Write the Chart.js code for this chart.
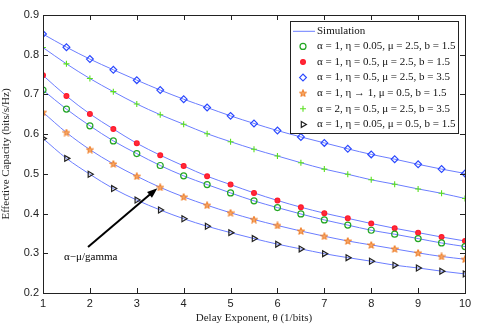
<!DOCTYPE html>
<html>
<head>
<meta charset="utf-8">
<script src="https://cdn.jsdelivr.net/npm/chart.js@4.4.1/dist/chart.umd.min.js"></script>
<style>
  html, body { margin: 0; padding: 0; background: #fff; }
  #wrap { width: 485px; height: 325px; }
</style>
</head>
<body>
<div id="wrap"><canvas id="chart" width="485" height="325"></canvas></div>
<script>
// delay exponent values (x axis)
const theta = [1, 1.5, 2, 2.5, 3, 3.5, 4, 4.5, 5, 5.5, 6, 6.5, 7, 7.5, 8, 8.5, 9, 9.5, 10];

// effective capacity, one array per parameter set
const capA1Eta005Mu25B15 = [0.711, 0.663, 0.621, 0.583, 0.551, 0.521, 0.495, 0.473, 0.452, 0.432, 0.415, 0.399, 0.384, 0.371, 0.358, 0.348, 0.337, 0.326, 0.317];
const capA1Eta05Mu25B15 = [0.748, 0.696, 0.651, 0.613, 0.577, 0.547, 0.520, 0.494, 0.473, 0.452, 0.433, 0.416, 0.401, 0.388, 0.375, 0.363, 0.352, 0.341, 0.331];
const capA1Eta05Mu25B35 = [0.852, 0.819, 0.789, 0.762, 0.736, 0.711, 0.688, 0.667, 0.646, 0.627, 0.609, 0.593, 0.578, 0.563, 0.549, 0.537, 0.524, 0.512, 0.501];
const capA1Eta1Mu05B15 = [0.655, 0.604, 0.561, 0.525, 0.494, 0.466, 0.442, 0.421, 0.402, 0.385, 0.370, 0.356, 0.343, 0.331, 0.321, 0.311, 0.301, 0.292, 0.285];
const capA2Eta05Mu25B35 = [0.818, 0.777, 0.740, 0.707, 0.676, 0.649, 0.625, 0.601, 0.581, 0.562, 0.545, 0.528, 0.512, 0.499, 0.485, 0.474, 0.462, 0.451, 0.438];
const capA1Eta005Mu05B15 = [0.589, 0.539, 0.499, 0.463, 0.434, 0.409, 0.387, 0.368, 0.352, 0.337, 0.323, 0.311, 0.299, 0.289, 0.280, 0.270, 0.263, 0.255, 0.248];

const seriesLabels = [
  "α = 1, η = 0.05, μ = 2.5, b = 1.5",
  "α = 1, η = 0.5, μ = 2.5, b = 1.5",
  "α = 1, η = 0.5, μ = 2.5, b = 3.5",
  "α = 1, η → 1, μ = 0.5, b = 1.5",
  "α = 2, η = 0.5, μ = 2.5, b = 3.5",
  "α = 1, η = 0.05, μ = 0.5, b = 1.5",
];
const yTicks = [0.2, 0.3, 0.4, 0.5, 0.6, 0.7, 0.8, 0.9];
const xTicks = [1, 2, 3, 4, 5, 6, 7, 8, 9, 10];

// annotation: label position and arrow (data coordinates)
const noteText = "α−μ/gamma";
const noteAt = { x: 1.45, y: 0.291 };
const arrowFrom = { x: 1.96, y: 0.316 };
const arrowTo = { x: 3.44, y: 0.464 };

const lineColor = "#6b7dff";
const serif = "'Liberation Serif', 'DejaVu Serif', serif";
const sans = "'Liberation Sans', Arial, sans-serif";

function pentagram(color) {
  const c = document.createElement("canvas");
  c.width = 8; c.height = 8;
  const g = c.getContext("2d");
  g.beginPath();
  for (let i = 0; i < 10; i++) {
    const r = i % 2 === 0 ? 3.7 : 1.5;
    const a = -Math.PI / 2 + i * Math.PI / 5;
    const px = 4 + r * Math.cos(a), py = 4.3 + r * Math.sin(a);
    i === 0 ? g.moveTo(px, py) : g.lineTo(px, py);
  }
  g.closePath();
  g.fillStyle = "#f6a868";
  g.fill();
  g.strokeStyle = color;
  g.lineWidth = 1;
  g.stroke();
  return c;
}

const markerStyles = [
  { pointStyle: "circle", radius: 3, color: "#23a623", fill: "rgba(0,0,0,0)", rotation: 0, width: 1.2 },
  { pointStyle: "circle", radius: 2.4, color: "#ff1a2a", fill: "#ff2a3a", rotation: 0, width: 1.2 },
  { pointStyle: "rectRot", radius: 3.4, color: "#2a48ff", fill: "rgba(0,0,0,0)", rotation: 0, width: 1.2 },
  { pointStyle: pentagram("#ee7a22"), radius: 4, color: "#ee7a22", fill: "#ee7a22", rotation: 0, width: 1 },
  { pointStyle: "cross", radius: 3, color: "#5ae020", fill: "#5ae020", rotation: 0, width: 1.1 },
  { pointStyle: "triangle", radius: 3.4, color: "#222", fill: "rgba(0,0,0,0)", rotation: 90, width: 1.2 },
];

const allSeries = [capA1Eta005Mu25B15, capA1Eta05Mu25B15, capA1Eta05Mu25B35, capA1Eta1Mu05B15, capA2Eta05Mu25B35, capA1Eta005Mu05B15];
const toPoints = (ys) => theta.map((x, i) => ({ x, y: ys[i] }));

const datasets = [];
allSeries.forEach((ys) => {
  datasets.push({
    type: "line", data: toPoints(ys), borderColor: lineColor, borderWidth: 1,
    pointRadius: 0, cubicInterpolationMode: "monotone", fill: false, order: 2,
  });
});
allSeries.forEach((ys, k) => {
  const m = markerStyles[k];
  datasets.push({
    type: "line", data: toPoints(ys), showLine: false, order: 1,
    pointStyle: m.pointStyle, pointRadius: m.radius, pointRotation: m.rotation,
    pointBorderColor: m.color, pointBackgroundColor: m.fill, pointBorderWidth: m.width,
  });
});

// MATLAB-like frame, inward ticks, legend box and arrow note
const matlabFrame = {
  id: "matlabFrame",
  afterDatasetsDraw(chart) {
    const { ctx, chartArea: a, scales: { x, y } } = chart;
    ctx.save();
    ctx.strokeStyle = "#222";
    ctx.lineWidth = 1;
    ctx.beginPath();
    xTicks.forEach((v) => {
      const px = Math.round(x.getPixelForValue(v)) + 0.5;
      ctx.moveTo(px, a.bottom); ctx.lineTo(px, a.bottom - 5);
      ctx.moveTo(px, a.top); ctx.lineTo(px, a.top + 5);
    });
    yTicks.forEach((v) => {
      const py = Math.round(y.getPixelForValue(v)) + 0.5;
      ctx.moveTo(a.left, py); ctx.lineTo(a.left + 5, py);
      ctx.moveTo(a.right, py); ctx.lineTo(a.right - 5, py);
    });
    ctx.stroke();
    ctx.strokeRect(Math.round(a.left) + 0.5, Math.round(a.top) + 0.5, Math.round(a.right - a.left), Math.round(a.bottom - a.top));

    // arrow
    const x0 = x.getPixelForValue(arrowFrom.x), y0 = y.getPixelForValue(arrowFrom.y);
    const x1 = x.getPixelForValue(arrowTo.x), y1 = y.getPixelForValue(arrowTo.y);
    const ang = Math.atan2(y1 - y0, x1 - x0);
    ctx.strokeStyle = "#000"; ctx.fillStyle = "#000"; ctx.lineWidth = 2;
    ctx.beginPath(); ctx.moveTo(x0, y0); ctx.lineTo(x1 - 8 * Math.cos(ang), y1 - 8 * Math.sin(ang)); ctx.stroke();
    ctx.beginPath();
    ctx.moveTo(x1, y1);
    ctx.lineTo(x1 - 11 * Math.cos(ang - 0.35), y1 - 11 * Math.sin(ang - 0.35));
    ctx.lineTo(x1 - 11 * Math.cos(ang + 0.35), y1 - 11 * Math.sin(ang + 0.35));
    ctx.closePath(); ctx.fill();
    ctx.font = `11px ${serif}`;
    ctx.textBaseline = "middle"; ctx.textAlign = "left";
    ctx.fillText(noteText, x.getPixelForValue(noteAt.x), y.getPixelForValue(noteAt.y));

    // legend box
    const lx = a.right - 175, ly = a.top + 6, lw = 168, lh = 112;
    ctx.fillStyle = "#fff";
    ctx.fillRect(lx, ly, lw, lh);
    ctx.strokeStyle = "#222"; ctx.lineWidth = 1;
    ctx.strokeRect(Math.round(lx) + 0.5, Math.round(ly) + 0.5, lw, lh);
    const rowH = 15.6, rowY0 = ly + 9.8;
    ctx.font = `11px ${serif}`;
    ctx.fillStyle = "#111";
    ctx.fillText("Simulation", lx + 27, rowY0);
    ctx.strokeStyle = lineColor;
    ctx.beginPath(); ctx.moveTo(lx + 3, rowY0 + 0.5); ctx.lineTo(lx + 25, rowY0 + 0.5); ctx.stroke();
    seriesLabels.forEach((label, k) => {
      const ry = rowY0 + (k + 1) * rowH;
      const m = markerStyles[k];
      ctx.strokeStyle = m.color; ctx.fillStyle = m.fill; ctx.lineWidth = m.width;
      Chart.helpers.drawPoint(ctx, { pointStyle: m.pointStyle, rotation: m.rotation, radius: m.radius, borderWidth: m.width }, lx + 13, ry);
      ctx.fillStyle = "#111";
      ctx.fillText(label, lx + 27, ry);
    });
    ctx.restore();
  },
};

new Chart(document.getElementById("chart"), {
  type: "line",
  data: { datasets },
  plugins: [matlabFrame],
  options: {
    responsive: false,
    animation: false,
    layout: { padding: { top: 15, right: 20, left: 0, bottom: 0 } },
    plugins: { legend: { display: false }, tooltip: { enabled: false } },
    scales: {
      x: {
        type: "linear", min: 1, max: 10,
        afterFit: (s) => { s.height = 32; },
        afterBuildTicks: (s) => { s.ticks = xTicks.map((v) => ({ value: v })); },
        grid: { display: false, drawTicks: false },
        border: { display: false },
        ticks: { padding: 4, color: "#222", font: { family: sans, size: 11 }, maxRotation: 0 },
        title: { display: true, text: "Delay Exponent, θ (1/bits)", color: "#222", font: { family: serif, size: 11 }, padding: { top: 1, bottom: 0 } },
      },
      y: {
        type: "linear", min: 0.2, max: 0.9,
        afterFit: (s) => { s.width = 43; },
        afterBuildTicks: (s) => { s.ticks = yTicks.map((v) => ({ value: v })); },
        grid: { display: false, drawTicks: false },
        border: { display: false },
        ticks: { padding: 4, color: "#222", font: { family: sans, size: 11 }, callback: (v) => v.toFixed(1) },
        title: { display: true, text: "Effective Capacity (bits/s/Hz)", color: "#222", font: { family: serif, size: 11 }, padding: { top: 0, bottom: 2 } },
      },
    },
  },
});
</script>
</body>
</html>
